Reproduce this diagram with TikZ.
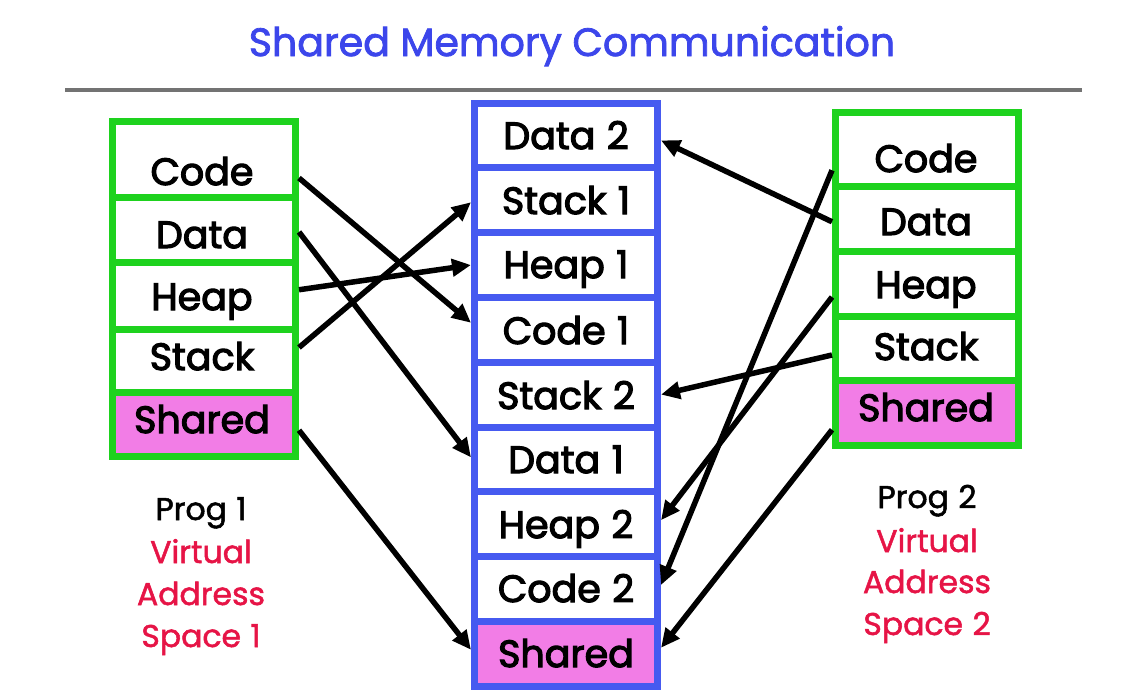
\documentclass[tikz,border=0pt]{standalone}
\usepackage{fontspec}
\setmainfont{Poppins}
\newfontfamily\cellfont{Poppins}[FakeBold=3]
\newfontfamily\labfont{Poppins}[FakeBold=1.6]
\newfontfamily\ttlfont{Poppins}[FakeBold=2]
\usetikzlibrary{arrows.meta,calc}
\definecolor{boxgreen}{RGB}{30,210,30}
\definecolor{boxblue}{RGB}{70,90,240}
\definecolor{shpink}{RGB}{242,125,230}
\definecolor{titleblue}{RGB}{60,70,235}
\definecolor{labred}{RGB}{230,20,70}
\begin{document}
\begin{tikzpicture}[x=1pt,y=-1pt,
  gcell/.style={draw=boxgreen, line width=7pt, fill=white, minimum width=183pt, inner sep=0pt, outer sep=3.5pt},
  bcell/.style={draw=boxblue, line width=7pt, fill=white, minimum width=183pt, minimum height=64.8pt, inner sep=0pt, outer sep=3.5pt},
  shfill/.style={fill=shpink},
  ctext/.style={anchor=base, font=\cellfont\fontsize{38}{44}\selectfont, text=black, inner sep=0pt},
  ltext/.style={anchor=base, font=\labfont\fontsize{31.5}{36}\selectfont, inner sep=0pt},
  conn/.style={line width=5.5pt, -{Triangle[length=19pt,width=17pt]}}
]
\useasboundingbox (0,0) rectangle (1132,697);

% title and rule
\node[anchor=base, font=\ttlfont\fontsize{39.5}{44}\selectfont, text=titleblue, inner sep=0pt] (title) at (572,56) {Shared Memory Communication};
\coordinate (ruleL) at (65,90);
\coordinate (ruleR) at (1082,90);
\draw[line width=4pt, black!55] (ruleL) -- (ruleR);

% left column (Prog 1)
\node[gcell, minimum height=76pt] (Lcode) at (204,159.5) {};
\node[gcell, minimum height=65pt] (Ldata) at (204,230) {};
\node[gcell, minimum height=66.5pt] (Lheap) at (204,295.75) {};
\node[gcell, minimum height=63pt] (Lstack) at (204,360.5) {};
\node[gcell, shfill, minimum height=64.5pt] (Lshared) at (204,424.25) {};
\node[ctext] (tLcode) at (202,185) {Code};
\node[ctext] (tLdata) at (202,248) {Data};
\node[ctext] (tLheap) at (202,310) {Heap};
\node[ctext] (tLstack) at (202,370) {Stack};
\node[ctext] (tLshared) at (202,433) {Shared};

% middle column (physical memory)
\node[bcell] (M1) at (566,135.4) {};
\node[bcell] (M2) at (566,200.2) {};
\node[bcell] (M3) at (566,265.0) {};
\node[bcell] (M4) at (566,329.8) {};
\node[bcell] (M5) at (566,394.6) {};
\node[bcell] (M6) at (566,459.4) {};
\node[bcell] (M7) at (566,524.2) {};
\node[bcell] (M8) at (566,589.0) {};
\node[bcell, shfill] (M9) at (566,653.8) {};
\node[ctext] (tM1) at (566,149) {Data\hspace{0.3em}2};
\node[ctext] (tM2) at (566,214) {Stack\hspace{0.3em}1};
\node[ctext] (tM3) at (566,278) {Heap\hspace{0.3em}1};
\node[ctext] (tM4) at (566,344) {Code\hspace{0.3em}1};
\node[ctext] (tM5) at (566,409) {Stack\hspace{0.3em}2};
\node[ctext] (tM6) at (566,473) {Data\hspace{0.3em}1};
\node[ctext] (tM7) at (566,538) {Heap\hspace{0.3em}2};
\node[ctext] (tM8) at (566,602) {Code\hspace{0.3em}2};
\node[ctext] (tM9) at (566,667) {Shared};

% right column (Prog 2)
\node[gcell, minimum height=74.5pt] (Rcode) at (927,149.25) {};
\node[gcell, minimum height=64.5pt] (Rdata) at (927,218.75) {};
\node[gcell, minimum height=65pt] (Rheap) at (927,283.5) {};
\node[gcell, minimum height=64pt] (Rstack) at (927,348) {};
\node[gcell, shfill, minimum height=65.5pt] (Rshared) at (927,412.75) {};
\node[ctext] (tRcode) at (926,172) {Code};
\node[ctext] (tRdata) at (926,235) {Data};
\node[ctext] (tRheap) at (926,298) {Heap};
\node[ctext] (tRstack) at (926,360) {Stack};
\node[ctext] (tRshared) at (926,421) {Shared};

% captions
\node[ltext] (p1a) at (201,520) {Prog\hspace{0.3em}1};
\node[ltext, text=labred] (p1b) at (201,563) {Virtual};
\node[ltext, text=labred] (p1c) at (201,605) {Address};
\node[ltext, text=labred] (p1d) at (201,647) {Space\hspace{0.3em}1};
\node[ltext] (p2a) at (927,508) {Prog\hspace{0.3em}2};
\node[ltext, text=labred] (p2b) at (927,552) {Virtual};
\node[ltext, text=labred] (p2c) at (927,593) {Address};
\node[ltext, text=labred] (p2d) at (927,635) {Space\hspace{0.3em}2};

% connectors from Prog 1
\draw[conn] ($(Lcode.east)+(0,18.5)$) -- ($(M4.west)+(0,-7)$);
\draw[conn] ($(Ldata.east)+(0,2)$) -- ($(M6.west)+(0,-2)$);
\draw[conn] ($(Lheap.east)+(0,-6)$) -- ($(M3.west)+(0,0)$);
\draw[conn] ($(Lstack.east)+(0,-13)$) -- ($(M2.west)+(0,2)$);
\draw[conn] ($(Lshared.east)+(0,6)$) -- ($(M9.west)+(0,-4)$);

% connectors from Prog 2
\draw[conn] ($(Rdata.west)+(0,3)$) -- ($(M1.east)+(0,5)$);
\draw[conn] ($(Rcode.west)+(0,21)$) -- ($(M8.east)+(0,-4)$);
\draw[conn] ($(Rheap.west)+(0,13.5)$) -- ($(M7.east)+(0,-4)$);
\draw[conn] ($(Rstack.west)+(0,7)$) -- ($(M5.east)+(0,0)$);
\draw[conn] ($(Rshared.west)+(0,17)$) -- ($(M9.east)+(0,-6)$);
\end{tikzpicture}
\end{document}
